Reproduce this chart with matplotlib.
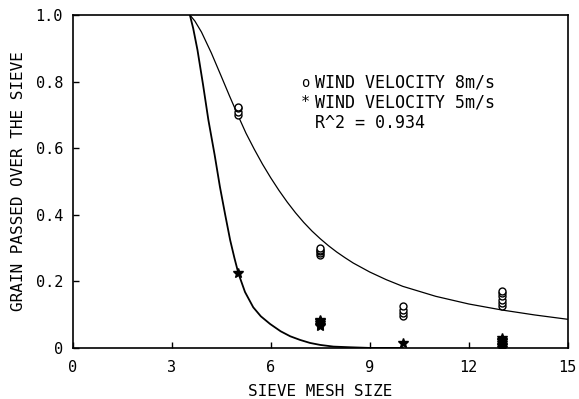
import matplotlib
matplotlib.use("Agg")
import matplotlib.pyplot as plt

# fitted curves
fit8_x = [3.55, 3.7, 3.9, 4.2, 4.5, 4.75, 5.0, 5.25, 5.5, 5.75, 6.0, 6.25, 6.5, 6.75, 7.0,
          7.25, 7.5, 7.75, 8.0, 8.25, 8.5, 9.0, 9.5, 10.0, 11.0, 12.0, 13.0, 14.0, 15.0]
fit8_y = [1.0, 0.982, 0.949, 0.886, 0.816, 0.757, 0.70, 0.645, 0.597, 0.552, 0.511,
          0.473, 0.438, 0.406, 0.377, 0.351, 0.328, 0.307, 0.288, 0.271, 0.255, 0.228,
          0.205, 0.185, 0.155, 0.132, 0.114, 0.099, 0.086]

fit5_x = [3.55, 3.65, 3.78, 3.95, 4.11, 4.3, 4.46, 4.62, 4.77, 4.9, 5.02, 5.22, 5.47,
          5.7, 5.98, 6.3, 6.59, 6.89, 7.19, 7.5, 7.9, 8.4, 9.0, 10.0]
fit5_y = [1.0, 0.96, 0.895, 0.79, 0.685, 0.58, 0.484, 0.40, 0.324, 0.27, 0.224, 0.168,
          0.122, 0.095, 0.072, 0.05, 0.035, 0.024, 0.015, 0.009, 0.004, 0.002, 0.0, 0.0]

# measured points, wind velocity 8 m/s
v8_x = [5, 5, 5, 5, 7.5, 7.5, 7.5, 7.5, 7.5, 10, 10, 10, 10, 13, 13, 13, 13, 13, 13]
v8_y = [0.70, 0.71, 0.72, 0.725, 0.28, 0.285, 0.29, 0.295, 0.30, 0.095, 0.105, 0.115,
        0.125, 0.125, 0.135, 0.145, 0.155, 0.165, 0.172]

# measured points, wind velocity 5 m/s
v5_x = [5, 7.5, 7.5, 7.5, 7.5, 7.5, 10, 13, 13, 13, 13, 13, 13, 13]
v5_y = [0.224, 0.065, 0.07, 0.075, 0.08, 0.085, 0.016, 0.0, 0.005, 0.01, 0.015, 0.02,
        0.025, 0.03]

xticks = [0, 3, 6, 9, 12, 15]
yticks = [0, 0.2, 0.4, 0.6, 0.8, 1.0]
yticklabels = ["0", "0.2", "0.4", "0.6", "0.8", "1.0"]

plt.rcParams['font.family'] = ['DejaVu Sans Mono']

fig = plt.figure(figsize=(5.79, 3.99), dpi=100)
ax = fig.add_axes([0.1256, 0.128, 0.855, 0.8344])

ax.plot(fit8_x, fit8_y, color='black', lw=0.9)
ax.plot(fit5_x, fit5_y, color='black', lw=1.3)
ax.plot(v8_x, v8_y, 'o', mfc='white', mec='black', ms=5, mew=1.0)
ax.plot(v5_x, v5_y, '*', color='black', ms=7)

ax.set_xlim(0, 15)
ax.set_ylim(0, 1.0)
ax.set_xticks(xticks)
ax.set_yticks(yticks)
ax.set_yticklabels(yticklabels)
ax.tick_params(direction='in', length=4, width=1, labelsize=11)
ax.tick_params(axis='x', pad=9)
ax.tick_params(axis='y', pad=7)
for s in ax.spines.values():
    s.set_linewidth(1.2)

ax.set_xlabel("SIEVE MESH SIZE", fontsize=11.5, labelpad=6)
ax.set_ylabel("GRAIN PASSED OVER THE SIEVE", fontsize=11.5, labelpad=7)

ax.text(7.05, 0.796, "o", fontsize=10, va='center', ha='center')
ax.text(7.05, 0.736, "*", fontsize=11, va='center', ha='center')
ax.text(7.35, 0.796, "WIND VELOCITY 8m/s", fontsize=12, va='center')
ax.text(7.35, 0.736, "WIND VELOCITY 5m/s", fontsize=12, va='center')
ax.text(7.35, 0.676, "R^2 = 0.934", fontsize=12, va='center')

fig.savefig("out.png", dpi=100)
